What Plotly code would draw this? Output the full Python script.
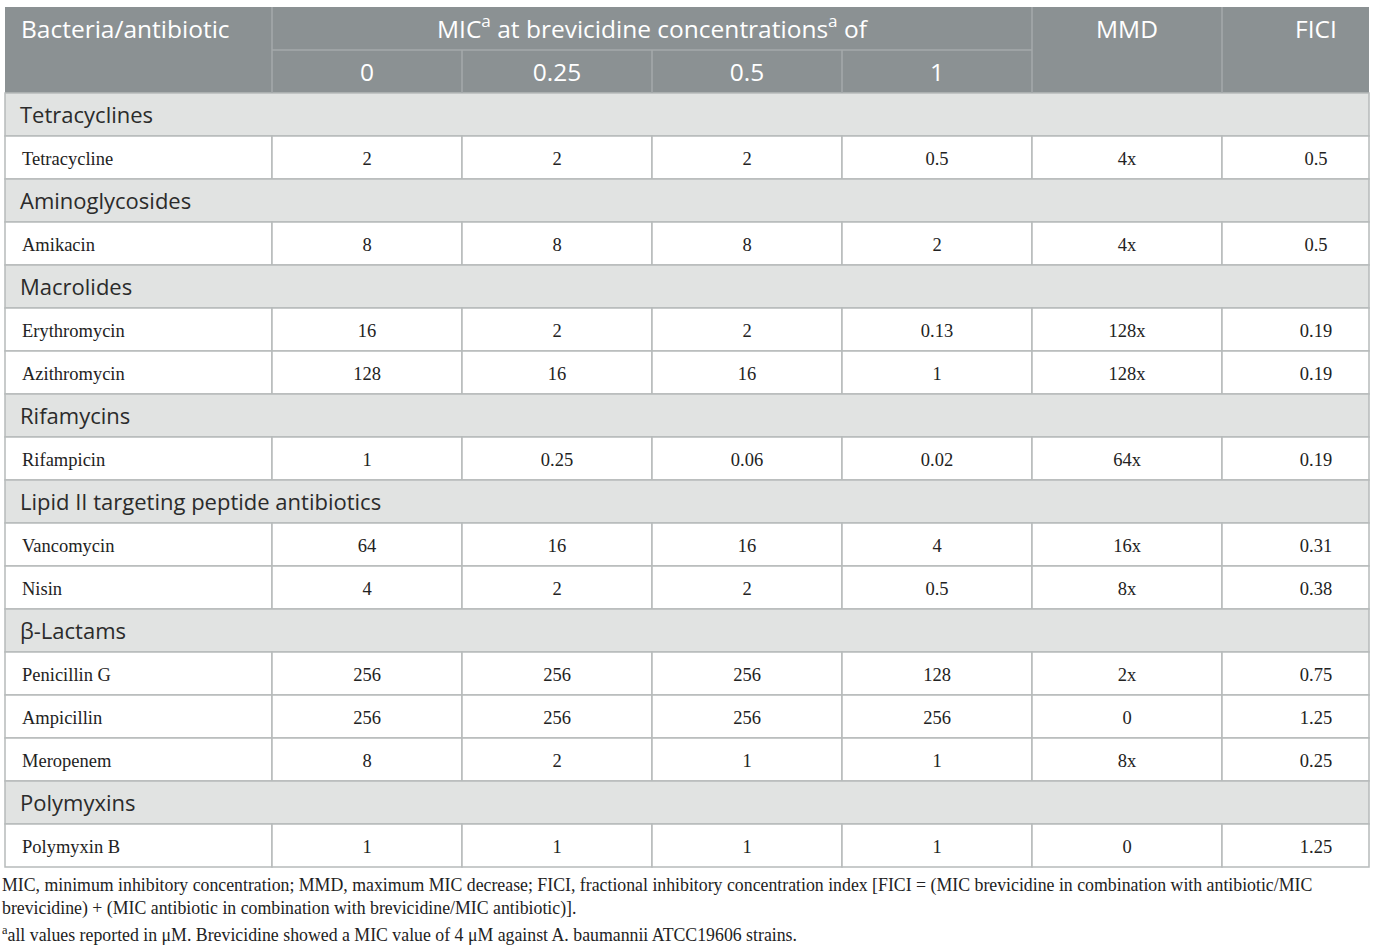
import plotly.graph_objects as go

# table content
antibiotics = ["Tetracycline", "Amikacin", "Erythromycin", "Azithromycin", "Rifampicin",
               "Vancomycin", "Nisin", "Penicillin G", "Ampicillin", "Meropenem", "Polymyxin B"]
classes = ["Tetracyclines", "Aminoglycosides", "Macrolides", "Macrolides", "Rifamycins",
           "Lipid II targeting peptide antibiotics", "Lipid II targeting peptide antibiotics",
           "β-Lactams", "β-Lactams", "β-Lactams", "Polymyxins"]
conc_labels = ["0", "0.25", "0.5", "1"]
mic_0 = ["2", "8", "16", "128", "1", "64", "4", "256", "256", "8", "1"]
mic_025 = ["2", "8", "2", "16", "0.25", "16", "2", "256", "256", "2", "1"]
mic_05 = ["2", "8", "2", "16", "0.06", "16", "2", "256", "256", "1", "1"]
mic_1 = ["0.5", "2", "0.13", "1", "0.02", "4", "0.5", "128", "256", "1", "1"]
mmd = ["4x", "4x", "128x", "128x", "64x", "16x", "8x", "2x", "0", "8x", "0"]
fici = ["0.5", "0.5", "0.19", "0.19", "0.19", "0.31", "0.38", "0.75", "1.25", "0.25", "1.25"]

header_first = "Bacteria/antibiotic"
header_mic = "MIC<sup>a</sup> at brevicidine concentrations<sup>a</sup> of"
header_mmd = "MMD"
header_fici = "FICI"

footnotes = [
    "MIC, minimum inhibitory concentration; MMD, maximum MIC decrease; FICI, fractional inhibitory "
    "concentration index [FICI = (MIC brevicidine in combination with antibiotic/MIC",
    "brevicidine) + (MIC antibiotic in combination with brevicidine/MIC antibiotic)].",
    "<sup>a</sup>all values reported in μM. Brevicidine showed a MIC value of 4 μM against "
    "A. baumannii ATCC19606 strains.",
]

# geometry / style (pixel space of the page)
W, H = 1375, 949
col_edges = [5, 272, 462, 652, 842, 1032, 1222, 1369]
top = 7
row_h = 43.0
fici_x = 1316          # FICI column text sits right of the cell centre
foot_y = [887, 910, 937]
sans_dy = 3            # optical nudge so text sits mid-cell like the original
serif_dy = 2.5
HEAD_BG = "#8b9193"
HEAD_LINE = "#a5aaab"
CAT_BG = "#e1e3e2"
LINE = "#b7bbbb"
SANS = "Open Sans"
SERIF = "Liberation Serif"

# build the row list: category rows interleaved with data rows
rows = []
prev = None
for i, name in enumerate(antibiotics):
    if classes[i] != prev:
        rows.append(("cat", classes[i]))
        prev = classes[i]
    rows.append(("data", i))

shapes = []


def rect(x0, x1, y0, y1, fill, line, lw=1.5):
    shapes.append(dict(type="rect", xref="x", yref="y", x0=x0, x1=x1, y0=y0, y1=y1,
                       fillcolor=fill, line=dict(color=line, width=lw), layer="below"))


def vline(x, y0, y1, color):
    shapes.append(dict(type="line", xref="x", yref="y", x0=x, x1=x, y0=y0, y1=y1,
                       line=dict(color=color, width=1.5)))


# header background + inner lines
head_bot = top + 2 * row_h
rect(col_edges[0], col_edges[-1], top, head_bot, HEAD_BG, HEAD_BG, 0)
for k in [1, 5, 6]:
    vline(col_edges[k], top, head_bot, HEAD_LINE)
for k in [2, 3, 4]:
    vline(col_edges[k], top + row_h, head_bot, HEAD_LINE)
shapes.append(dict(type="line", xref="x", yref="y", x0=col_edges[1], x1=col_edges[5],
                   y0=top + row_h, y1=top + row_h, line=dict(color=HEAD_LINE, width=1.5)))

# text collections
tx, ty, tt, tpos, tfont = [], [], [], [], []


def add_text(x, y, t, pos, font):
    tx.append(x)
    ty.append(y)
    tt.append(t)
    tpos.append(pos)
    tfont.append(font)


hfont = dict(family=SANS, size=24.5, color="white")
y_h1 = top + row_h / 2 + sans_dy
y_h2 = top + 1.5 * row_h + sans_dy
add_text(col_edges[0] + 16, y_h1, header_first, "middle right", hfont)
add_text((col_edges[1] + col_edges[5]) / 2, y_h1, header_mic, "middle center", hfont)
add_text((col_edges[5] + col_edges[6]) / 2, y_h1, header_mmd, "middle center", hfont)
add_text(fici_x, y_h1, header_fici, "middle center", hfont)
for k, lab in enumerate(conc_labels):
    add_text((col_edges[k + 1] + col_edges[k + 2]) / 2, y_h2, lab, "middle center", hfont)

cfont = dict(family=SANS, size=22, color="#2b2b2b")
dfont = dict(family=SERIF, size=18.5, color="#222222")

for r, (kind, val) in enumerate(rows):
    y0 = head_bot + r * row_h
    y1 = y0 + row_h
    yc = (y0 + y1) / 2
    if kind == "cat":
        rect(col_edges[0], col_edges[-1], y0, y1, CAT_BG, LINE)
        add_text(col_edges[0] + 15, yc + sans_dy, val, "middle right", cfont)
    else:
        for k in range(len(col_edges) - 1):
            rect(col_edges[k], col_edges[k + 1], y0, y1, "white", LINE)
        yt = yc + serif_dy
        add_text(col_edges[0] + 17, yt, antibiotics[val], "middle right", dfont)
        vals = [mic_0[val], mic_025[val], mic_05[val], mic_1[val], mmd[val]]
        for k, v in enumerate(vals):
            add_text((col_edges[k + 1] + col_edges[k + 2]) / 2, yt, v, "middle center", dfont)
        add_text(fici_x, yt, fici[val], "middle center", dfont)

ffont = dict(family=SERIF, size=17.8, color="#222222")
for j, line in enumerate(footnotes):
    add_text(col_edges[0] - 3, foot_y[j], line, "middle right", ffont)

fig = go.Figure()
for x, y, t, p, f in zip(tx, ty, tt, tpos, tfont):
    fig.add_trace(go.Scatter(x=[x], y=[y], text=[t], mode="text", textposition=p,
                             textfont=f, hoverinfo="skip", showlegend=False))

fig.update_layout(
    width=W, height=H,
    margin=dict(l=0, r=0, t=0, b=0),
    paper_bgcolor="white", plot_bgcolor="white",
    shapes=shapes,
    xaxis=dict(range=[0, W], visible=False, fixedrange=True),
    yaxis=dict(range=[H, 0], visible=False, fixedrange=True),
    showlegend=False,
)

# drop the page's default body margin so the figure starts at the window corner
fig.write_html("out.html", config={"displayModeBar": False},
               post_script="document.body.style.margin='0px';")
